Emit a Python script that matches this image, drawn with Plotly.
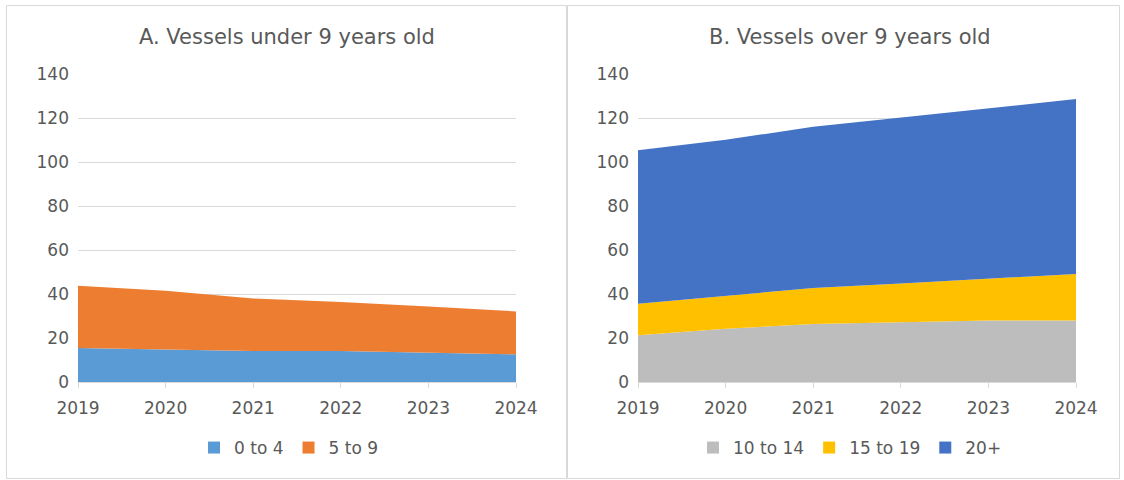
import plotly.graph_objects as go

years = [2019, 2020, 2021, 2022, 2023, 2024]

# Panel A: vessels under 9 years old
age_0_4 = [15.4, 14.9, 14.1, 14.1, 13.4, 12.6]
age_5_9 = [28.4, 26.6, 23.9, 22.3, 20.9, 19.5]

# Panel B: vessels over 9 years old
age_10_14 = [21.2, 24.2, 26.4, 27.0, 27.9, 27.9]
age_15_19 = [14.4, 14.9, 16.3, 17.8, 19.1, 21.2]
age_20_plus = [69.7, 71.0, 73.3, 75.5, 77.4, 79.5]

y_ticks = [0, 20, 40, 60, 80, 100, 120, 140]

title_a = "A. Vessels under 9 years old"
title_b = "B. Vessels over 9 years old"

FONT = "DejaVu Sans"
TXT = "#595959"
GRID = "#d9d9d9"

W, H = 1124, 480

fig = go.Figure()

def add_area(name, y, color, xa, ya, legend, grp):
    fig.add_trace(go.Scatter(
        x=years, y=y, name=name, mode="lines",
        line=dict(width=0, color=color),
        fillcolor=color, stackgroup=grp,
        xaxis=xa, yaxis=ya, showlegend=False,
        hoverinfo="x+y+name",
    ))
    # legend swatch (square marker, no data drawn)
    fig.add_trace(go.Scatter(
        x=[None], y=[None], name=name, mode="markers",
        marker=dict(symbol="square", size=12, color=color),
        xaxis=xa, yaxis=ya, legend=legend, showlegend=True,
    ))

add_area("0 to 4", age_0_4, "#5B9BD5", "x", "y", "legend", "a")
add_area("5 to 9", age_5_9, "#ED7D31", "x", "y", "legend", "a")
add_area("10 to 14", age_10_14, "#BDBDBD", "x2", "y2", "legend2", "b")
add_area("15 to 19", age_15_19, "#FFC000", "x2", "y2", "legend2", "b")
add_area("20+", age_20_plus, "#4472C4", "x2", "y2", "legend2", "b")

ydom = [(H - 382) / H, (H - 74) / H]
xdomA = [78 / W, 516 / W]
xdomB = [638 / W, 1076 / W]

xcommon = dict(
    range=[2019, 2024], tickvals=years, ticktext=[str(v) for v in years],
    showgrid=False, zeroline=False, showline=True, linecolor=GRID, linewidth=1,
    ticks="outside", ticklen=5, tickcolor=GRID, ticklabelstandoff=6,
    tickfont=dict(family=FONT, size=17, color=TXT), fixedrange=True,
    automargin=False,
)
ycommon = dict(
    range=[0, 140], tickvals=y_ticks, showgrid=True, gridcolor=GRID, gridwidth=1,
    zeroline=False, showline=False, ticks="", ticklabelstandoff=8,
    tickfont=dict(family=FONT, size=17, color=TXT), fixedrange=True,
    automargin=False,
)

legcommon = dict(
    orientation="h", xanchor="center", yanchor="middle", traceorder="normal",
    font=dict(family=FONT, size=17, color=TXT), bgcolor="rgba(0,0,0,0)",
    itemwidth=30,
)

fig.update_layout(
    width=W, height=H, margin=dict(l=0, r=0, t=0, b=0, autoexpand=False),
    paper_bgcolor="white", plot_bgcolor="white",
    xaxis=dict(domain=xdomA, anchor="y", **xcommon),
    yaxis=dict(domain=ydom, anchor="x", **ycommon),
    xaxis2=dict(domain=xdomB, anchor="y2", **xcommon),
    yaxis2=dict(domain=ydom, anchor="x2", **ycommon),
    legend=dict(x=289 / W, y=(H - 448) / H, **legcommon),
    legend2=dict(x=850 / W, y=(H - 448) / H, **legcommon),
    showlegend=True,
    annotations=[
        dict(text=title_a, x=287 / W, y=(H - 37) / H, xref="paper", yref="paper",
             xanchor="center", yanchor="middle", showarrow=False,
             font=dict(family=FONT, size=21, color=TXT)),
        dict(text=title_b, x=850 / W, y=(H - 37) / H, xref="paper", yref="paper",
             xanchor="center", yanchor="middle", showarrow=False,
             font=dict(family=FONT, size=21, color=TXT)),
    ],
    shapes=[
        dict(type="rect", xref="paper", yref="paper",
             x0=6.5 / W, x1=566.5 / W, y0=(H - 478.5) / H, y1=(H - 5.5) / H,
             line=dict(color=GRID, width=1), fillcolor="rgba(0,0,0,0)", layer="below"),
        dict(type="rect", xref="paper", yref="paper",
             x0=567.5 / W, x1=1119.5 / W, y0=(H - 478.5) / H, y1=(H - 5.5) / H,
             line=dict(color=GRID, width=1), fillcolor="rgba(0,0,0,0)", layer="below"),
    ],
)

fig.write_html("out.html", config={"displayModeBar": False},
               post_script="document.body.style.margin='0';")
